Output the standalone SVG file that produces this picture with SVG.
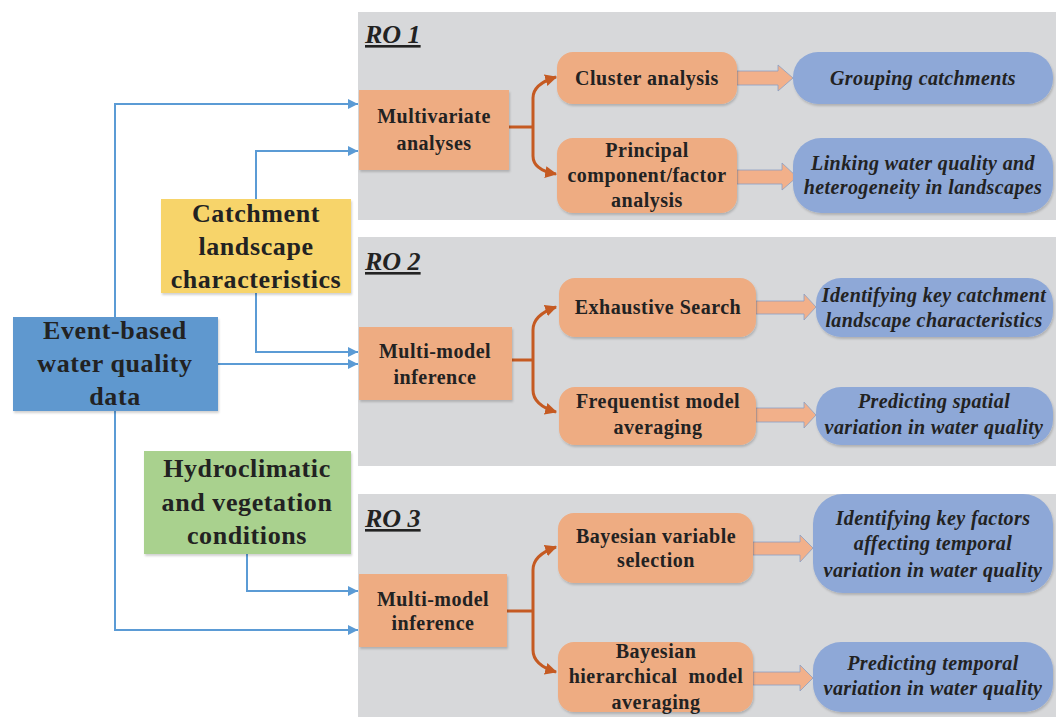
<svg xmlns="http://www.w3.org/2000/svg" width="1056" height="717" viewBox="0 0 1056 717">
<defs>
<marker id="ab" viewBox="0 0 10 10" refX="10" refY="5" markerWidth="10" markerHeight="10" markerUnits="userSpaceOnUse" orient="auto"><path d="M0,0 L10,5 L0,10 Z" fill="#5B9BD5"/></marker>
<marker id="ao" viewBox="0 0 10 10" refX="9" refY="5" markerWidth="12" markerHeight="12" markerUnits="userSpaceOnUse" orient="auto"><path d="M0,0 L10,5 L0,10 Z" fill="#C55A22"/></marker>
<filter id="sh" x="-5%" y="-5%" width="115%" height="120%"><feDropShadow dx="1" dy="2" stdDeviation="1.2" flood-color="#000" flood-opacity="0.18"/></filter>
</defs>
<style>
.panel{fill:#D7D8DA;}
.ro{font-family:"Liberation Serif",serif;font-weight:bold;font-style:italic;font-size:26px;fill:#222;text-decoration:underline;}
.m{fill:#EEAC82;filter:url(#sh);}
.o{fill:#8EA8D7;filter:url(#sh);}
.t{font-family:"Liberation Serif",serif;font-weight:bold;font-size:20px;fill:#222;text-anchor:middle;letter-spacing:0.5px;}
.ti{font-family:"Liberation Serif",serif;font-weight:bold;font-style:italic;font-size:20px;fill:#222;text-anchor:middle;letter-spacing:0.4px;}
.tb{font-family:"Liberation Serif",serif;font-weight:bold;font-size:26px;fill:#222;text-anchor:middle;letter-spacing:0.6px;}
.bl{fill:none;stroke:#5B9BD5;stroke-width:2;marker-end:url(#ab);}
.or{fill:none;stroke:#C55A22;stroke-width:3;}
.orA{fill:none;stroke:#C55A22;stroke-width:3;marker-end:url(#ao);}
.blk{fill:#F2B08A;stroke:#8A9FC4;stroke-width:0.8;}
</style>
<rect width="1056" height="717" fill="#FFFFFF"/>
<g id="panels">
<rect class="panel" x="358" y="12" width="698" height="208"/>
<rect class="panel" x="358" y="237" width="698" height="229"/>
<rect class="panel" x="358" y="494" width="698" height="223"/>
<text class="ro" x="365" y="43">RO 1</text>
<text class="ro" x="365" y="270">RO 2</text>
<text class="ro" x="365" y="527">RO 3</text>
</g>
<g id="connectors">
<path class="bl" d="M115,317 V104 H358"/>
<path class="bl" d="M256,199 V151 H358"/>
<path class="bl" d="M256,293 V352 H358"/>
<path class="bl" d="M218,364 H358"/>
<path class="bl" d="M115,411 V630 H358"/>
<path class="bl" d="M247,554 V591 H358"/>
<path class="or" d="M509,127 H533"/>
<path class="orA" d="M533,127 V98 Q533,84 556,77"/>
<path class="orA" d="M533,127 V156 Q533,170 556,174"/>
<path class="or" d="M512,360 H533"/>
<path class="orA" d="M533,360 V330 Q533,315 556,307"/>
<path class="orA" d="M533,360 V390 Q533,405 556,412"/>
<path class="or" d="M507,611 H533"/>
<path class="orA" d="M533,611 V570 Q533,555 556,547"/>
<path class="orA" d="M533,611 V650 Q533,665 556,672"/>
<path class="blk" d="M737,71 H778 V65 L793,78 L778,91 V85 H737 Z"/>
<path class="blk" d="M737,170 H782 V163 L797,177 L782,190 V184 H737 Z"/>
<path class="blk" d="M756,301 H804 V294 L816,307 L804,320 V314 H756 Z"/>
<path class="blk" d="M756,408 H804 V402 L816,415 L804,428 V422 H756 Z"/>
<path class="blk" d="M753,542 H800 V535 L813,548 L800,562 V555 H753 Z"/>
<path class="blk" d="M753,672 H800 V665 L813,678 L800,691 V685 H753 Z"/>
</g>
<g id="event-based">
<rect x="13" y="317" width="205" height="94" fill="#5F98CF" filter="url(#sh)"/>
<text class="tb" x="115" y="339">Event-based</text>
<text class="tb" x="115" y="372">water quality</text>
<text class="tb" x="115" y="405">data</text>
</g>
<g id="catchment">
<rect x="161" y="199" width="190" height="94" fill="#F7D46B" filter="url(#sh)"/>
<text class="tb" x="256" y="222">Catchment</text>
<text class="tb" x="256" y="255">landscape</text>
<text class="tb" x="256" y="288">characteristics</text>
</g>
<g id="hydro">
<rect x="144" y="451" width="207" height="103" fill="#A9D18E" filter="url(#sh)"/>
<text class="tb" x="247" y="477">Hydroclimatic</text>
<text class="tb" x="247" y="511">and vegetation</text>
<text class="tb" x="247" y="544">conditions</text>
</g>
<g id="multivariate">
<rect class="m" x="359" y="90" width="150" height="80"/>
<text class="t" x="434" y="123">Multivariate</text>
<text class="t" x="434" y="150">analyses</text>
</g>
<g id="cluster">
<rect class="m" x="557" y="52" width="180" height="52" rx="16"/>
<text class="t" x="647" y="85">Cluster analysis</text>
</g>
<g id="pca">
<rect class="m" x="557" y="138" width="180" height="75" rx="16"/>
<text class="t" x="647" y="157">Principal</text>
<text class="t" x="647" y="182">component/factor</text>
<text class="t" x="647" y="207">analysis</text>
</g>
<g id="grouping">
<rect class="o" x="793" y="52" width="260" height="52" rx="25"/>
<text class="ti" x="923" y="85">Grouping catchments</text>
</g>
<g id="linking">
<rect class="o" x="793" y="138" width="260" height="75" rx="28"/>
<text class="ti" x="923" y="170">Linking water quality and</text>
<text class="ti" x="923" y="194">heterogeneity in landscapes</text>
</g>
<g id="mmi2">
<rect class="m" x="359" y="327" width="153" height="73"/>
<text class="t" x="435" y="358">Multi-model</text>
<text class="t" x="435" y="384">inference</text>
</g>
<g id="exhaustive">
<rect class="m" x="559" y="278" width="197" height="59" rx="16"/>
<text class="t" x="658" y="314">Exhaustive Search</text>
</g>
<g id="frequentist">
<rect class="m" x="559" y="387" width="197" height="58" rx="16"/>
<text class="t" x="658" y="408">Frequentist model</text>
<text class="t" x="658" y="434">averaging</text>
</g>
<g id="identify-landscape">
<rect class="o" x="816" y="278" width="237" height="59" rx="25"/>
<text class="ti" x="934" y="302">Identifying key catchment</text>
<text class="ti" x="934" y="327">landscape characteristics</text>
</g>
<g id="predict-spatial">
<rect class="o" x="816" y="387" width="237" height="58" rx="25"/>
<text class="ti" x="934" y="408">Predicting spatial</text>
<text class="ti" x="934" y="434">variation in water quality</text>
</g>
<g id="mmi3">
<rect class="m" x="359" y="574" width="148" height="73"/>
<text class="t" x="433" y="606">Multi-model</text>
<text class="t" x="433" y="630">inference</text>
</g>
<g id="bvs">
<rect class="m" x="558" y="513" width="195" height="70" rx="16"/>
<text class="t" x="656" y="543">Bayesian variable</text>
<text class="t" x="656" y="567">selection</text>
</g>
<g id="bhma">
<rect class="m" x="558" y="642" width="195" height="70" rx="16"/>
<text class="t" x="656" y="658">Bayesian</text>
<text class="t" x="656" y="683" xml:space="preserve">hierarchical  model</text>
<text class="t" x="656" y="709">averaging</text>
</g>
<g id="identify-factors">
<rect class="o" x="813" y="494" width="240" height="99" rx="30"/>
<text class="ti" x="933" y="525">Identifying key factors</text>
<text class="ti" x="933" y="550">affecting temporal</text>
<text class="ti" x="933" y="577">variation in water quality</text>
</g>
<g id="predict-temporal">
<rect class="o" x="813" y="642" width="240" height="70" rx="28"/>
<text class="ti" x="933" y="670">Predicting temporal</text>
<text class="ti" x="933" y="695">variation in water quality</text>
</g>
</svg>
